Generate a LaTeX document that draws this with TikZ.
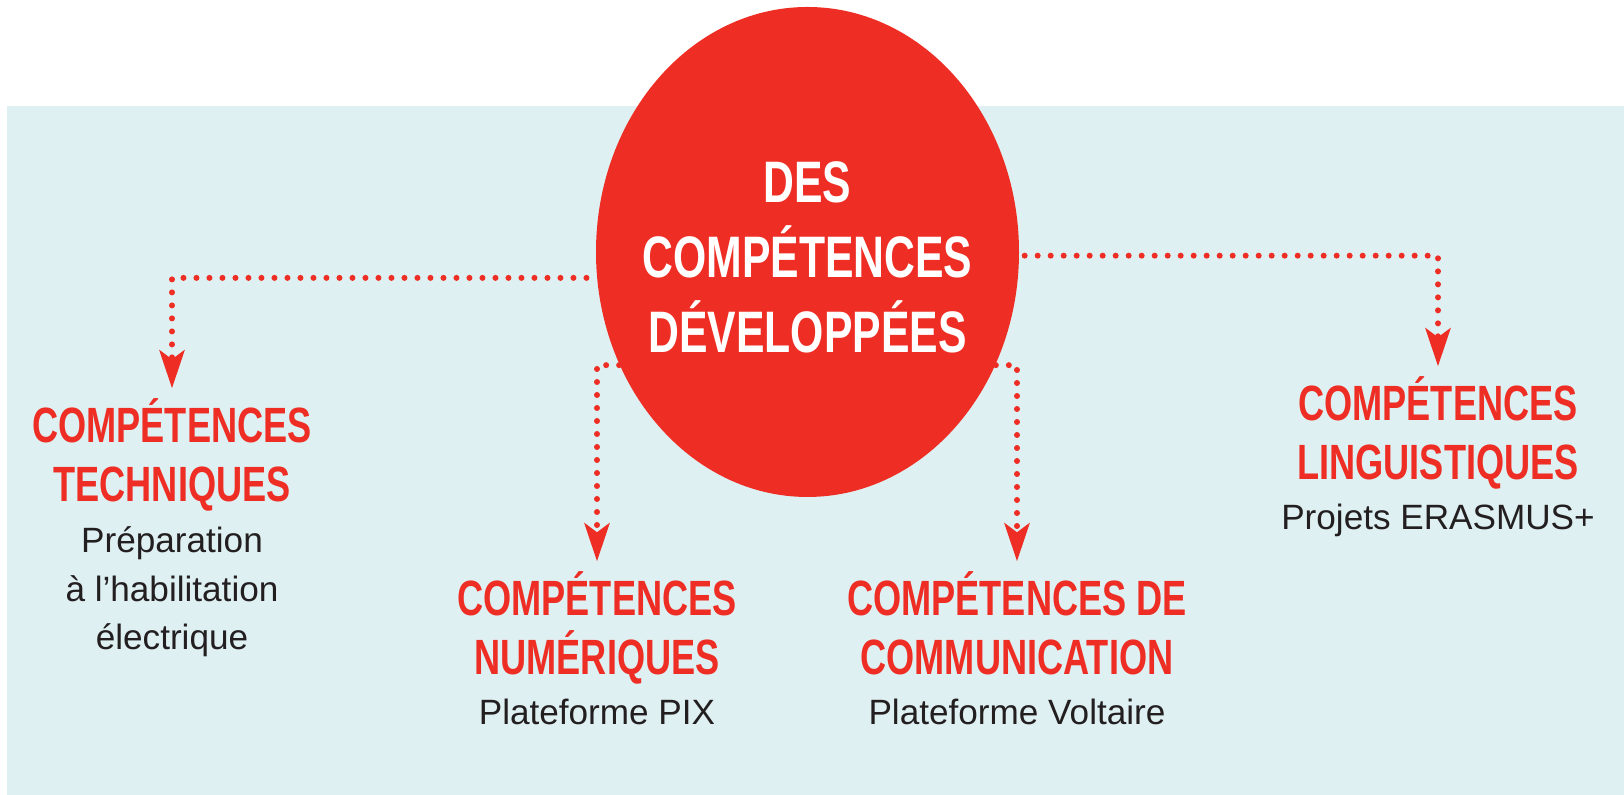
\documentclass[tikz,border=0pt]{standalone}
\usepackage{fontspec}
\setmainfont{Liberation Sans}
\newfontfamily\condfont{Liberation Sans}[FakeStretch=0.73]
\usepackage{xcolor}
\usetikzlibrary{shapes.geometric,arrows.meta}

\definecolor{rouge}{HTML}{EE2E24}
\definecolor{fond}{HTML}{DFF0F2}
\definecolor{gris}{HTML}{231F20}

\begin{document}
\begin{tikzpicture}[
    titre/.style={font=\condfont\bfseries\fontsize{14.1}{16.8}\selectfont, text=rouge, align=center, inner sep=0pt, anchor=base},
    detail/.style={font=\fontsize{10}{13.9}\selectfont, text=gris, align=center, inner sep=0pt, anchor=base},
    lien/.style={draw=rouge, line width=0.06cm, line cap=round, dash pattern=on 0pt off 0.13cm, shorten >=0.1cm, -{Stealth[length=0.38cm,width=0.25cm,inset=0.09cm]}}
  ]
    \useasboundingbox (0,0) rectangle (16.24,7.95);
    \fill[fond] (0.07,0) rectangle (16.24,6.89);
    \node[ellipse, fill=rouge, minimum width=4.23cm, minimum height=4.9cm, inner sep=-0.4cm, text=white, align=center, font=\condfont\bfseries\fontsize{16.65}{21.3}\selectfont] (centre) at (8.075,5.43) {\rule{0pt}{0.52cm}DES\\COMPÉTENCES\\DÉVELOPPÉES};

    \node[titre] (tech) at (1.72,2.93) {COMPÉTENCES\\TECHNIQUES};
    \node[detail] (techtxt) at (1.72,1.45) {Préparation\\à l’habilitation\\électrique};
    \node[titre] (num) at (5.97,1.20) {COMPÉTENCES\\NUMÉRIQUES};
    \node[detail] (numtxt) at (5.97,0.70) {Plateforme PIX};
    \node[titre] (comm) at (10.17,1.20) {COMPÉTENCES DE\\COMMUNICATION};
    \node[detail] (commtxt) at (10.17,0.70) {Plateforme Voltaire};
    \node[titre] (ling) at (14.38,3.15) {COMPÉTENCES\\LINGUISTIQUES};
    \node[detail] (lingtxt) at (14.38,2.65) {Projets ERASMUS+};

    \draw[lien, shorten <=0.1cm] (centre.187) -| (tech.north);
    \draw[lien] (centre.211) -| (num.north);
    \draw[lien] (centre.329) -| (comm.north);
    \draw[lien, shorten <=0.05cm] (centre.359) -| (ling.north);
\end{tikzpicture}
\end{document}
